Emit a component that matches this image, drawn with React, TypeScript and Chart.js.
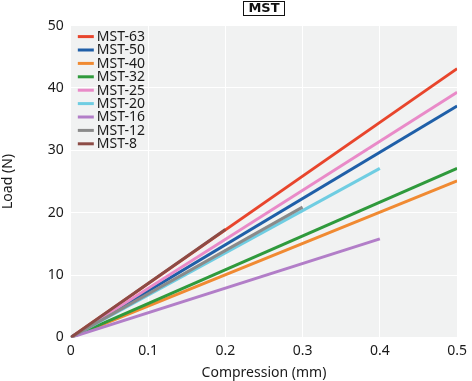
import React, { useEffect, useRef } from "react";
import { Chart, registerables } from "chart.js";

Chart.register(...registerables);

const seriesNames = ["MST-63", "MST-50", "MST-40", "MST-32", "MST-25", "MST-20", "MST-16", "MST-12", "MST-8"];
const seriesColors = ["#e8452c", "#1f5fa8", "#f08a32", "#2f9a3c", "#e98ac8", "#6fcde2", "#b27ec8", "#8a8a8a", "#8c4b45"];
const endCompression = [0.5, 0.5, 0.5, 0.5, 0.5, 0.4, 0.4, 0.3, 0.2];
const endLoad = [43.1, 37.1, 25.1, 27.1, 39.3, 27.1, 15.8, 20.9, 17.3];
const xTicks = [0, 0.1, 0.2, 0.3, 0.4, 0.5];
const yTicks = [0, 10, 20, 30, 40, 50];

const FONT = "'Noto Sans', 'DejaVu Sans', sans-serif";
const TITLE_FONT = "'DejaVu Sans', sans-serif";

const bgPlugin = {
  id: "plotBg",
  beforeDraw(chart: any) {
    const { ctx, chartArea } = chart;
    ctx.save();
    ctx.fillStyle = "#f1f2f2";
    ctx.fillRect(chartArea.left, chartArea.top, chartArea.right - chartArea.left, chartArea.bottom - chartArea.top);
    ctx.restore();
  },
};

const titleBoxPlugin = {
  id: "titleBox",
  afterDraw(chart: any) {
    const tb = chart.titleBlock;
    if (!tb) return;
    const { ctx } = chart;
    ctx.save();
    ctx.font = `bold 13px ${TITLE_FONT}`;
    const w = ctx.measureText("MST").width;
    const cx = (tb.left + tb.right) / 2;
    ctx.strokeStyle = "#111";
    ctx.lineWidth = 1;
    ctx.strokeRect(Math.round(cx - w / 2 - 5) + 0.5, 1.5, Math.round(w + 10), 14);
    ctx.restore();
  },
};

const legendPlugin = {
  id: "insideLegend",
  afterDatasetsDraw(chart: any) {
    const { ctx, chartArea } = chart;
    ctx.save();
    ctx.font = `14px ${FONT}`;
    ctx.textBaseline = "middle";
    ctx.textAlign = "left";
    const x0 = chartArea.left + 7;
    const y0 = chartArea.top + 11;
    seriesNames.forEach((name, i) => {
      const y = y0 + i * 13.4;
      ctx.strokeStyle = seriesColors[i];
      ctx.lineWidth = 3;
      ctx.beginPath();
      ctx.moveTo(x0, y);
      ctx.lineTo(x0 + 16, y);
      ctx.stroke();
      ctx.fillStyle = "#1a1a1a";
      ctx.fillText(name, x0 + 19, y + 0.5);
    });
    ctx.restore();
  },
};

export default function App() {
  const ref = useRef<HTMLCanvasElement | null>(null);
  useEffect(() => {
    document.body.style.margin = "0";
    if (!ref.current) return;
    const datasets = seriesNames.map((name, i) => ({
      label: name,
      data: [
        { x: 0, y: 0 },
        { x: endCompression[i], y: endLoad[i] },
      ],
      borderColor: seriesColors[i],
      backgroundColor: seriesColors[i],
      borderWidth: 3,
      pointRadius: 0,
      fill: false,
      order: seriesNames.length - i,
    }));
    const chart = new Chart(ref.current, {
      type: "line",
      data: { datasets },
      options: {
        animation: false,
        responsive: false,
        layout: { padding: { left: 0, right: 0, top: 0, bottom: 0 } },
        plugins: {
          legend: { display: false },
          tooltip: { enabled: false },
          title: {
            display: true,
            text: "MST",
            fullSize: false,
            color: "#111",
            font: { family: TITLE_FONT, size: 13, weight: "bold" },
            padding: { top: 1, bottom: 9 },
          },
        },
        scales: {
          x: {
            type: "linear",
            min: 0,
            max: 0.5,
            afterBuildTicks: (axis: any) => {
              axis.ticks = xTicks.map((v) => ({ value: v }));
            },
            ticks: {
              color: "#1a1a1a",
              font: { family: FONT, size: 14 },
              padding: 5,
              maxRotation: 0,
              callback: (v: any) => String(Number(v)),
            },
            grid: { color: "#ffffff", lineWidth: 1, drawTicks: false },
            border: { display: false },
            title: {
              display: true,
              text: "Compression (mm)",
              color: "#1a1a1a",
              font: { family: FONT, size: 14 },
              padding: { top: 0, bottom: 0 },
            },
          },
          y: {
            type: "linear",
            min: 0,
            max: 50,
            afterBuildTicks: (axis: any) => {
              axis.ticks = yTicks.map((v) => ({ value: v }));
            },
            ticks: {
              color: "#1a1a1a",
              font: { family: FONT, size: 14 },
              padding: 7,
            },
            grid: { color: "#ffffff", lineWidth: 1, drawTicks: false },
            border: { display: false },
            title: {
              display: true,
              text: "Load (N)",
              color: "#1a1a1a",
              font: { family: FONT, size: 14 },
              padding: { top: 0, bottom: 24 },
            },
          },
        },
      },
      plugins: [bgPlugin, titleBoxPlugin, legendPlugin],
    });
    return () => chart.destroy();
  }, []);
  return (
    <div style={{ position: "absolute", left: 0, top: 0, width: 472, height: 381 }}>
      <canvas ref={ref} width={472} height={381} style={{ width: 472, height: 381 }} />
    </div>
  );
}
